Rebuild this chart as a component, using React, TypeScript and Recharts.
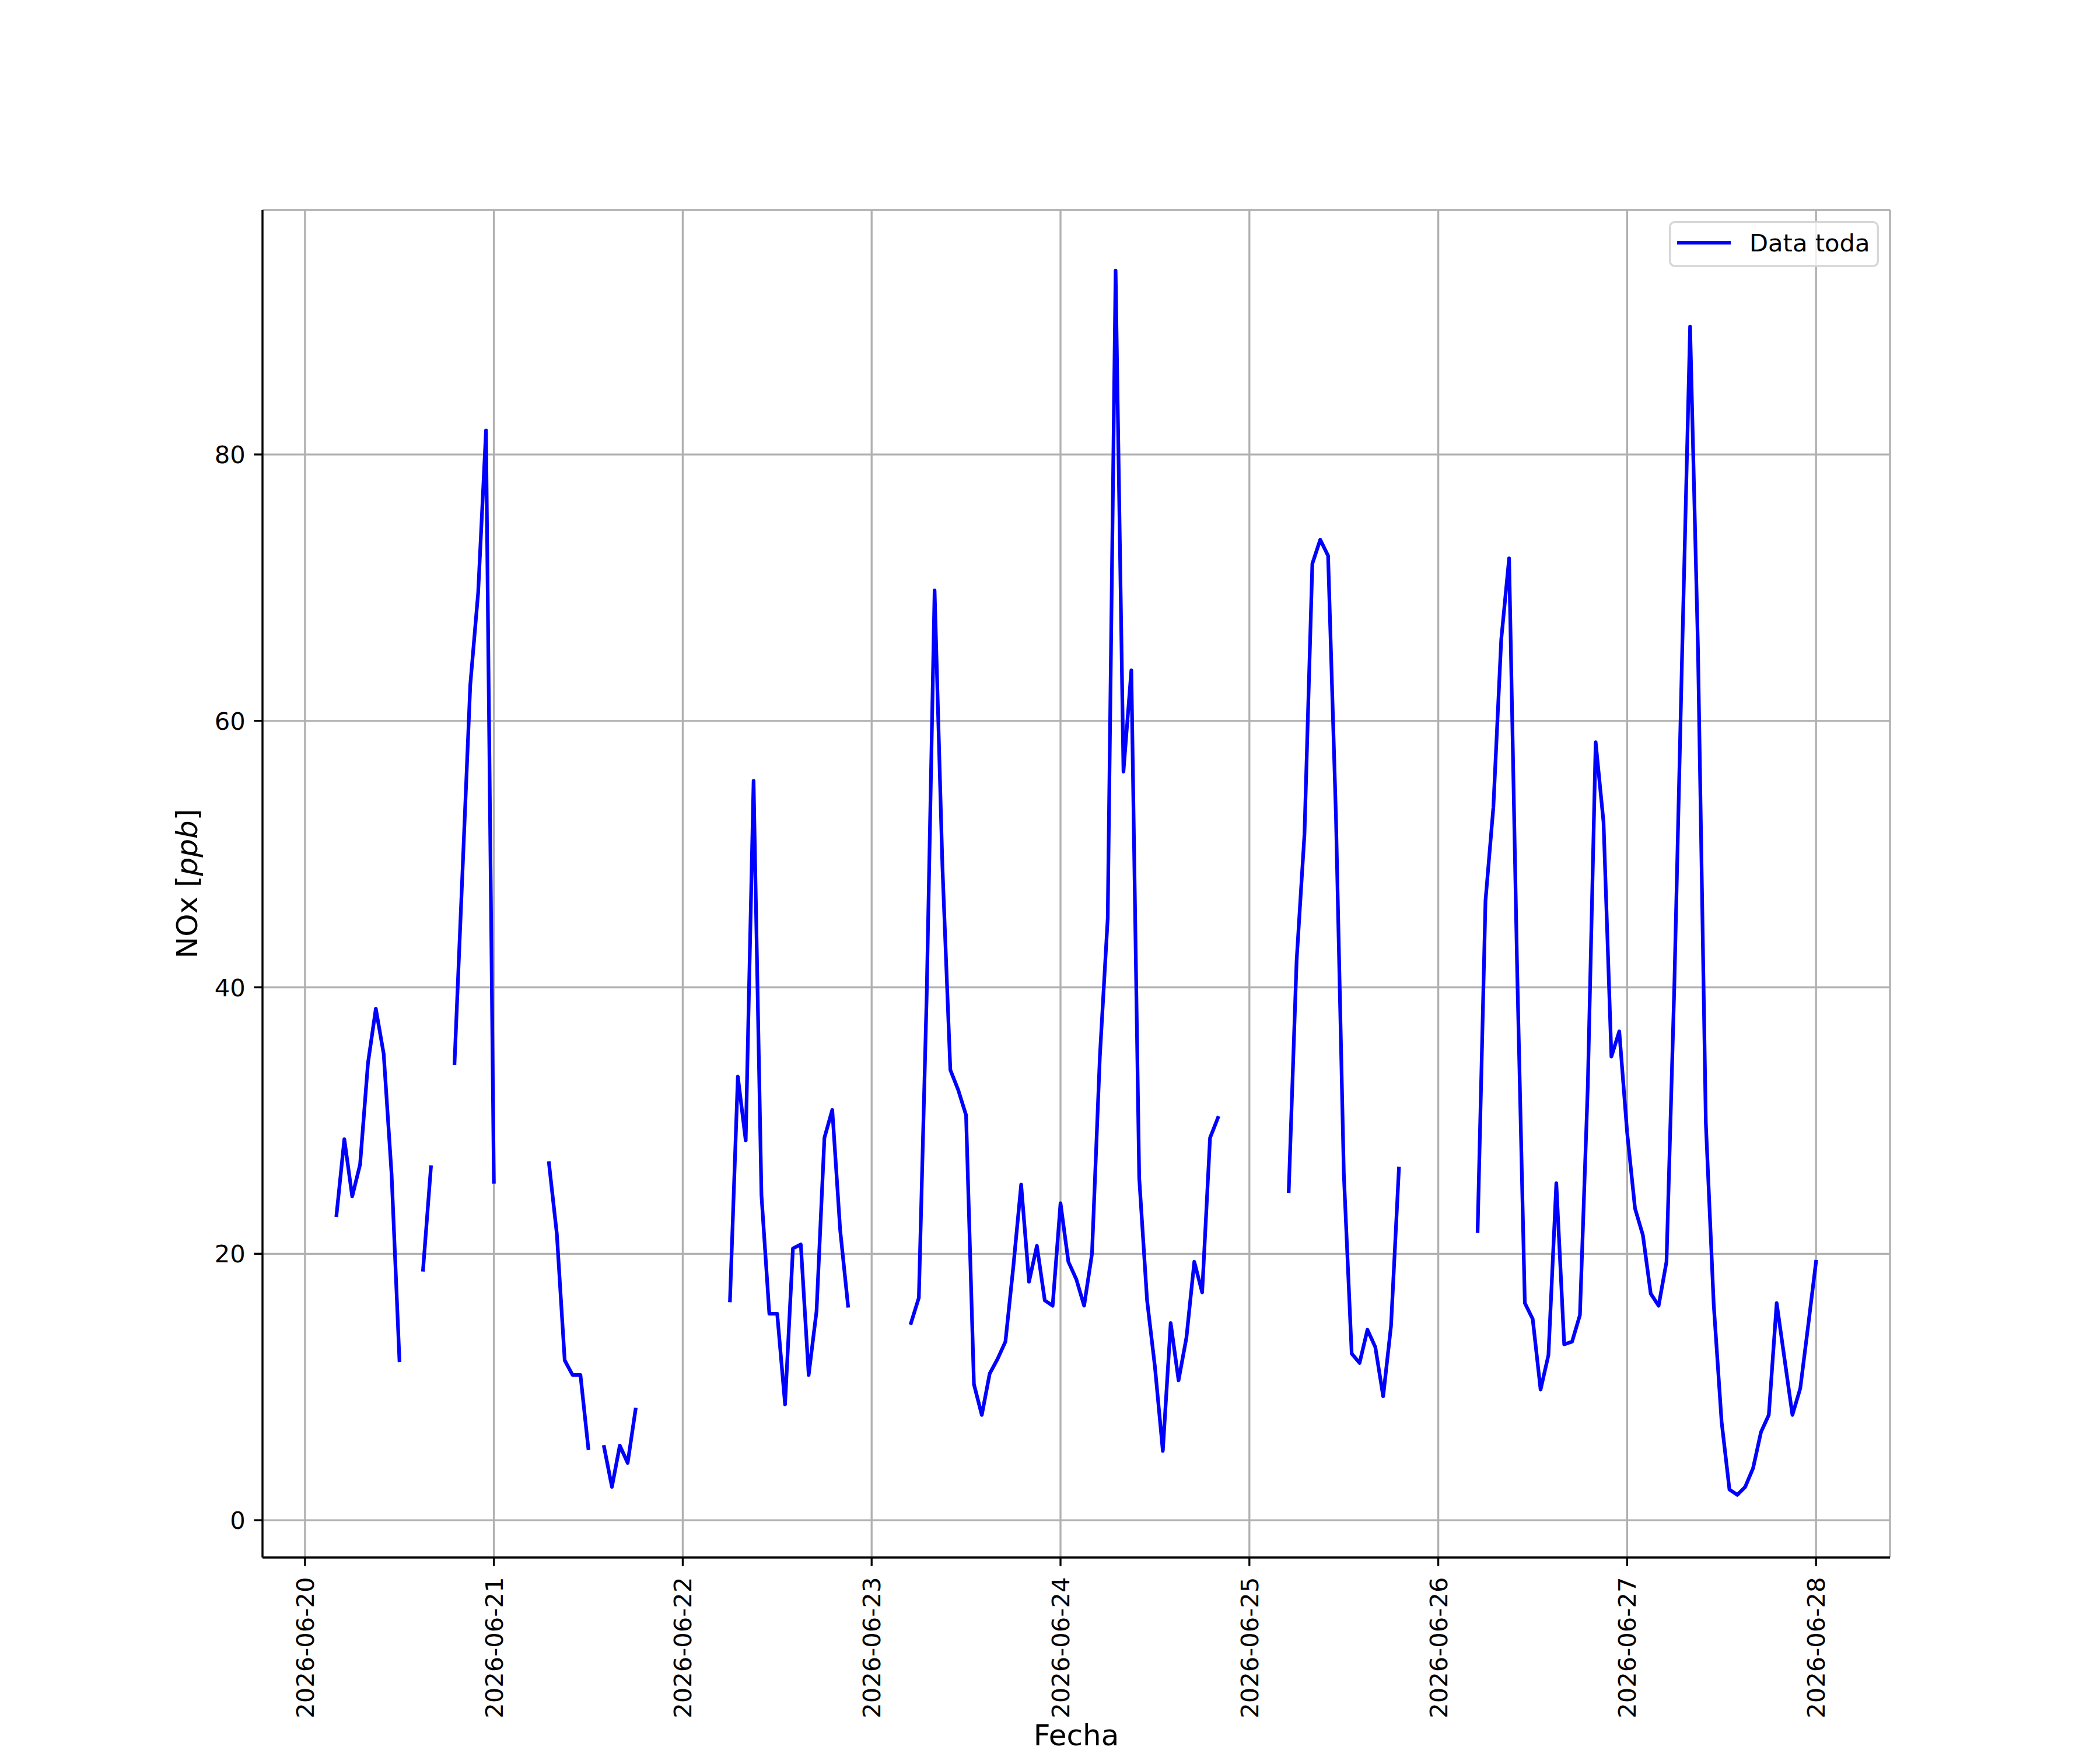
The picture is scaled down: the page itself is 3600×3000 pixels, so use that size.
import React from 'react';
import { LineChart, Line, XAxis, YAxis, CartesianGrid, Legend, Label } from 'recharts';

// ---- data (hourly NOx in ppb, null = missing) ----
const DATES = ['2026-06-20', '2026-06-21', '2026-06-22', '2026-06-23', '2026-06-24', '2026-06-25', '2026-06-26', '2026-06-27', '2026-06-28'];

const day20 = [null, null, null, null, 22.9, 28.6, 24.3, 26.7, 34.3, 38.4, 35.0, 26.0, 12.0, null, null, 18.8, 26.5, null, null, 34.3, 48.5, 62.7, 69.6, 81.8];
const day21 = [25.4, null, null, null, null, null, null, 26.8, 21.5, 12.0, 10.9, 10.9, 5.4, null, 5.5, 2.5, 5.6, 4.3, 8.3, null, null, null, null, null];
const day22 = [null, null, null, null, null, null, 16.5, 33.3, 28.5, 55.5, 24.4, 15.5, 15.5, 8.7, 20.4, 20.7, 10.9, 15.7, 28.7, 30.8, 21.8, 16.1, null, null];
const day23 = [null, null, null, null, null, 14.8, 16.7, 39.5, 69.8, 49.0, 33.8, 32.3, 30.4, 10.2, 7.9, 11.0, 12.1, 13.4, 19.0, 25.2, 17.9, 20.6, 16.5, 16.1];
const day24 = [23.8, 19.4, 18.1, 16.1, 20.0, 34.8, 45.2, 93.8, 56.2, 63.8, 25.7, 16.5, 11.5, 5.2, 14.8, 10.5, 13.7, 19.4, 17.1, 28.7, 30.2, null, null, null];
const day25 = [null, null, null, null, null, 24.7, 42.0, 51.5, 71.8, 73.6, 72.4, 52.8, 26.0, 12.5, 11.8, 14.3, 13.0, 9.3, 14.6, 26.4, null, null, null, null];
const day26 = [null, null, null, null, null, 21.7, 46.5, 53.5, 66.1, 72.2, 42.0, 16.3, 15.1, 9.8, 12.4, 25.3, 13.2, 13.4, 15.4, 32.6, 58.4, 52.4, 34.8, 36.7];
const day27 = [29.1, 23.4, 21.4, 17.0, 16.1, 19.4, 40.2, 65.4, 89.6, 65.4, 29.8, 16.2, 7.4, 2.3, 1.9, 2.5, 3.9, 6.6, 7.9, 16.3, 12.1, 7.9, 9.9, 14.6];
const day28 = [19.4];

const DAYS = [day20, day21, day22, day23, day24, day25, day26, day27, day28];

const Y_TICKS = [0, 20, 40, 60, 80];
const X_TICKS = DATES.map((_, i) => i * 24);

const SERIES_NAME = 'Data toda';
const X_LABEL = 'Fecha';

// table built from the arrays
const data: { h: number; v: number | null }[] = [];
DAYS.forEach((vals, d) => {
  vals.forEach((v, i) => {
    data.push({ h: d * 24 + i, v });
  });
});

// ---- layout / style ----
const W = 3600;
const H = 3000;
const FONT = '"DejaVu Sans", sans-serif';
const TICK_FS = 41.67;
const LABEL_FS = 50;
const LW = 3.33;
const X_DOMAIN: [number, number] = [-5.4, 201.4];
const Y_DOMAIN: [number, number] = [-2.8, 98.35];

const XTick = (props: any) => {
  const { x, y, payload } = props;
  const label = DATES[Math.round(payload.value / 24)];
  return (
    <text
      x={x}
      y={y}
      transform={`rotate(-90 ${x} ${y})`}
      textAnchor="end"
      dy="0.36em"
      fontFamily={FONT}
      fontSize={TICK_FS}
      fill="#000"
    >
      {label}
    </text>
  );
};

const YTick = (props: any) => {
  const { x, y, payload } = props;
  return (
    <text x={x} y={y} textAnchor="end" dy="0.36em" fontFamily={FONT} fontSize={TICK_FS} fill="#000">
      {payload.value}
    </text>
  );
};

const YLabelContent = (props: any) => {
  const vb = props.viewBox || { x: 0, y: 360, width: 450, height: 2310 };
  const cx = 338;
  const cy = vb.y + vb.height / 2;
  return (
    <text
      x={cx}
      y={cy}
      transform={`rotate(-90 ${cx} ${cy})`}
      textAnchor="middle"
      fontFamily={FONT}
      fontSize={LABEL_FS}
      fill="#000"
    >
      NOx [<tspan fontStyle="italic">ppb</tspan>]
    </text>
  );
};

const XLabelContent = (props: any) => {
  const vb = props.viewBox || { x: 450, y: 2670, width: 2790, height: 330 };
  const cx = vb.x + vb.width / 2;
  return (
    <text x={cx} y={2992} textAnchor="middle" fontFamily={FONT} fontSize={LABEL_FS} fill="#000">
      {X_LABEL}
    </text>
  );
};

const LegendContent = (props: any) => {
  const item = (props.payload && props.payload[0]) || { color: '#0000ff', value: SERIES_NAME };
  return (
    <svg width={362} height={81} style={{ display: 'block' }}>
      <rect
        x={1.67}
        y={1.67}
        width={356.6}
        height={75.3}
        rx={8.3}
        ry={8.3}
        fill="rgba(255,255,255,0.8)"
        stroke="#d6d6d6"
        strokeWidth={LW}
      />
      <line x1={14} y1={37} x2={106} y2={37} stroke={item.color} strokeWidth={6.25} strokeLinecap="butt" />
      <text x={138} y={51.5} fontFamily={FONT} fontSize={TICK_FS} fill="#000">
        {item.value}
      </text>
    </svg>
  );
};

export default function App() {
  return (
    <div style={{ width: W, height: H, background: '#fff' }}>
      <style>{`body{margin:0;background:#fff}`}</style>
      <LineChart width={W} height={H} data={data} margin={{ top: 360, right: 360, bottom: 0, left: 0 }}>
        <CartesianGrid stroke="#b0b0b0" strokeWidth={LW} />
        <XAxis
          dataKey="h"
          type="number"
          domain={X_DOMAIN}
          allowDataOverflow
          ticks={X_TICKS}
          interval={0}
          height={330}
          tickSize={14.6}
          tickMargin={19}
          tick={<XTick />}
          tickLine={{ stroke: '#000', strokeWidth: LW }}
          axisLine={{ stroke: '#000', strokeWidth: LW }}
        >
          <Label content={<XLabelContent />} />
        </XAxis>
        <XAxis
          xAxisId="top"
          orientation="top"
          type="number"
          domain={X_DOMAIN}
          allowDataOverflow
          height={0}
          tick={false}
          tickLine={false}
          axisLine={{ stroke: '#000', strokeWidth: LW }}
        />
        <YAxis
          type="number"
          domain={Y_DOMAIN}
          allowDataOverflow
          ticks={Y_TICKS}
          interval={0}
          width={450}
          tickSize={14.6}
          tickMargin={14.6}
          tick={<YTick />}
          tickLine={{ stroke: '#000', strokeWidth: LW }}
          axisLine={{ stroke: '#000', strokeWidth: LW }}
        >
          <Label content={<YLabelContent />} />
        </YAxis>
        <YAxis
          yAxisId="right"
          orientation="right"
          type="number"
          domain={Y_DOMAIN}
          allowDataOverflow
          width={0}
          tick={false}
          tickLine={false}
          axisLine={{ stroke: '#000', strokeWidth: LW }}
        />
        <Line
          type="linear"
          dataKey="v"
          name={SERIES_NAME}
          stroke="#0000ff"
          strokeWidth={6.25}
          strokeLinecap="square"
          strokeLinejoin="round"
          dot={false}
          activeDot={false}
          connectNulls={false}
          isAnimationActive={false}
        />
        <Legend
          layout="vertical"
          verticalAlign="middle"
          align="center"
          content={<LegendContent />}
          wrapperStyle={{ position: 'absolute', left: 2861, top: 379, right: 'auto', bottom: 'auto', width: 362, height: 81 }}
        />
      </LineChart>
    </div>
  );
}
